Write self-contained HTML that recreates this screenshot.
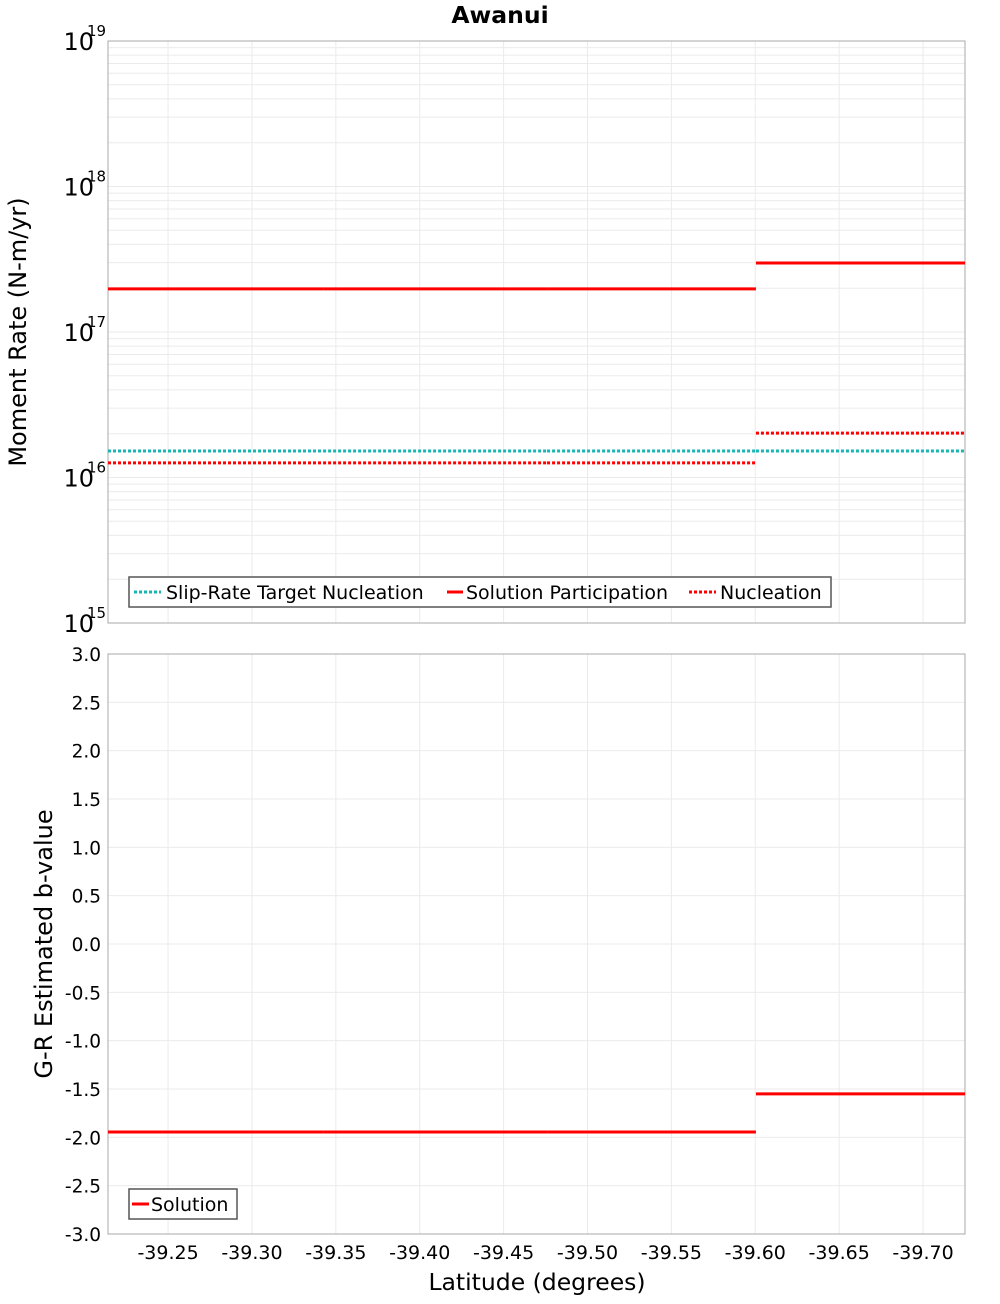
<!DOCTYPE html>
<html><head><meta charset="utf-8"><style>
body{margin:0;background:#fff;font-family:"DejaVu Sans","Liberation Sans",sans-serif}
svg text{font-family:"DejaVu Sans","Liberation Sans",sans-serif}
</style></head><body>
<svg id="c" width="1000" height="1300" xmlns="http://www.w3.org/2000/svg"></svg>
<script>
const segLat=[-39.2142,-39.3424,-39.4759,-39.6004,-39.725];
const participation=[1.98e17,1.98e17,1.98e17,2.98e17];
const nucleation=[1.26e16,1.26e16,1.26e16,2.02e16];
const target=[1.52e16,1.52e16,1.52e16,1.52e16];
const bvalue=[-1.945,-1.945,-1.945,-1.55];
const xTicks=[-39.25,-39.30,-39.35,-39.40,-39.45,-39.50,-39.55,-39.60,-39.65,-39.70];
const bTicks=[3,2.5,2,1.5,1,0.5,0,-0.5,-1,-1.5,-2,-2.5,-3];
const logTicks=[15,16,17,18,19];

const NS="http://www.w3.org/2000/svg",svg=document.getElementById('c');
const L=108,R=965,T1=41,B1=623,T2=654,B2=1234,X0=-39.2142,X1=-39.725;
const xs=v=>L+(v-X0)/(X1-X0)*(R-L);
const ys1=v=>B1-(Math.log10(v)-15)/4*(B1-T1);
const ys2=v=>B2-(v+3)/6*(B2-T2);
function el(t,a,p){const e=document.createElementNS(NS,t);for(const k in a)e.setAttribute(k,a[k]);(p||svg).appendChild(e);return e;}
function tx(x,y,s,a){const e=el('text',Object.assign({x:x,y:y},a));e.textContent=s;return e;}

const title=tx(500,23,'Awanui',{'text-anchor':'middle','font-size':'23.5','font-weight':'bold'});



const p1=el('rect',{x:L,y:T1,width:R-L,height:B1-T1,fill:'#fff',stroke:'#aaa'});


const p2=el('rect',{x:L,y:T2,width:R-L,height:B2-T2,fill:'#fff',stroke:'#aaa'});



for(let d=15;d<19;d++)for(let m=1;m<10;m++){const y=ys1(m*Math.pow(10,d));if(m>1||d>15){const g=el('line',{x1:L,x2:R,y1:y,y2:y,stroke:'#ebebeb'});}}
bTicks.forEach(v=>{const y=ys2(v);const g=el('line',{x1:L,x2:R,y1:y,y2:y,stroke:'#ebebeb'});});
xTicks.forEach(v=>{const x=xs(v);[[T1,B1],[T2,B2]].forEach(r=>{const g=el('line',{x1:x,x2:x,y1:r[0],y2:r[1],stroke:'#ebebeb'});});
 const t=tx(x,1259,v.toFixed(2),{'text-anchor':'middle','font-size':'19'});
 
 });
el('rect',{x:L,y:T1,width:R-L,height:B1-T1,fill:'none',stroke:'#aaa'});
el('rect',{x:L,y:T2,width:R-L,height:B2-T2,fill:'none',stroke:'#aaa'});

logTicks.forEach(d=>{const y=ys1(Math.pow(10,d));
 const t=tx(94,y+9,'10',{'text-anchor':'end','font-size':'24'});
 
 
 const s=tx(87,y-5,String(d),{'font-size':'15'});
 
 });
bTicks.forEach(v=>{const t=tx(101,ys2(v)+7,v.toFixed(1),{'text-anchor':'end','font-size':'18.5'});
 
 });

const yt1=tx(0,0,'Moment Rate (N-m/yr)',{'text-anchor':'middle','font-size':'24',transform:'translate(26,332) rotate(-90)'});


const yt2=tx(0,0,'G-R Estimated b-value',{'text-anchor':'middle','font-size':'24',transform:'translate(52,944) rotate(-90)'});


const xt=tx(537,1290,'Latitude (degrees)',{'text-anchor':'middle','font-size':'23.5'});



function seg(arr,ys,col,dash,name){for(let i=0;i<arr.length;i++){const y=ys(arr[i]);
 const l=el('line',{x1:xs(segLat[i]),x2:xs(segLat[i+1]),y1:y,y2:y,stroke:col,'stroke-width':'3','stroke-dasharray':dash||'none'});
 
 }}
seg(target,ys1,'#19b4b4','3 2','target-nucleation-line');
seg(nucleation,ys1,'#f00','3 2','nucleation-line');
seg(participation,ys1,'#f00',null,'participation-line');
seg(bvalue,ys2,'#f00',null,'b-value-line');

const lg=el('g',{});


el('rect',{x:129,y:577,width:702,height:30,fill:'#fff',stroke:'#555','stroke-width':'1.5'},lg);
[[134,161,166,'#19b4b4','3 2','Slip-Rate Target Nucleation'],[447,463,466,'#f00','none','Solution Participation'],[689,716,720,'#f00','3 2','Nucleation']].forEach(e=>{
 el('line',{x1:e[0],x2:e[1],y1:592,y2:592,stroke:e[3],'stroke-width':'3','stroke-dasharray':e[4]},lg);
 const t=tx(e[2],599,e[5],{'font-size':'19'});lg.appendChild(t);
 
 });
const lg2=el('g',{});


el('rect',{x:129,y:1189,width:108,height:30,fill:'#fff',stroke:'#555','stroke-width':'1.5'},lg2);
el('line',{x1:132,x2:149,y1:1204,y2:1204,stroke:'#f00','stroke-width':'3'},lg2);
const t2=tx(151,1211,'Solution',{'font-size':'19'});lg2.appendChild(t2);


</script>
</body></html>
